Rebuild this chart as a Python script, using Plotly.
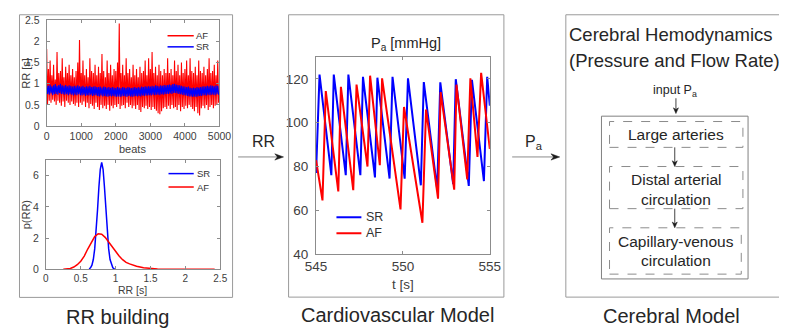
import plotly.graph_objects as go

W, H = 787, 329
FONT = "Liberation Sans, Arial, Helvetica, sans-serif"
TXT = "#262626"
LC = "#8c8c8c"
RED = "#ff0000"
BLUE = "#0000ff"


def X(p):
    return p / W


def Y(p):
    return 1 - p / H


# ---------------- data ----------------
beats = list(range(0, 5000, 25))
rr_af = [
    1.82, 0.52, 1.35, 0.60, 1.55, 0.55, 1.20, 0.62, 1.45, 0.58, 1.10, 0.50, 1.75, 0.60, 1.25, 0.55, 1.30, 0.48, 1.60, 0.58,
    1.15, 0.45, 1.40, 0.60, 1.25, 0.55, 1.45, 0.50, 1.20, 0.58, 1.35, 0.52, 1.15, 0.48, 1.30, 0.55, 1.50, 0.45, 2.03, 0.55,
    1.25, 0.50, 1.55, 0.58, 1.20, 0.45, 1.35, 0.55, 1.15, 0.42, 1.60, 0.52, 1.30, 0.48, 1.25, 0.40, 1.45, 0.55, 1.20, 0.45,
    1.40, 0.38, 1.25, 0.50, 1.70, 0.42, 1.30, 0.48, 1.15, 0.40, 1.55, 0.50, 1.25, 0.36, 1.45, 0.48, 1.20, 0.42, 1.35, 0.50,
    1.30, 0.45, 1.50, 0.52, 2.42, 0.40, 1.25, 0.48, 1.45, 0.50, 1.20, 0.42, 1.60, 0.55, 1.25, 0.45, 1.35, 0.50, 1.15, 0.42,
    1.45, 0.48, 1.20, 0.40, 1.35, 0.50, 1.15, 0.38, 1.40, 0.33, 1.25, 0.45, 1.30, 0.42, 1.55, 0.48, 1.20, 0.40, 1.60, 0.45,
    1.35, 0.38, 1.75, 0.45, 1.25, 0.40, 1.40, 0.36, 1.20, 0.30, 1.45, 0.28, 1.30, 0.35, 1.20, 0.42, 1.35, 0.45, 1.25, 0.40,
    1.60, 0.48, 1.25, 0.40, 1.35, 0.50, 1.20, 0.42, 1.55, 0.45, 1.30, 0.38, 1.45, 0.50, 1.20, 0.35, 1.50, 0.45, 1.25, 0.40,
    1.35, 0.48, 1.55, 0.42, 1.20, 0.50, 1.60, 0.45, 1.30, 0.40, 1.25, 0.35, 1.40, 0.45, 1.20, 0.30, 1.55, 0.25, 1.30, 0.42,
    1.25, 0.48, 1.40, 0.42, 1.20, 0.50, 1.35, 0.38, 1.60, 0.45, 1.25, 0.50, 1.30, 0.42, 1.45, 0.48, 1.20, 0.50, 1.55, 0.55,
]
rr_sr = [
    0.97, 0.76, 0.95, 0.74, 0.98, 0.77, 0.94, 0.73, 0.96, 0.75, 0.99, 0.76, 0.95, 0.74, 0.97, 0.78, 1.00, 0.76, 0.96, 0.75,
    0.95, 0.74, 0.97, 0.76, 0.94, 0.73, 0.96, 0.75, 0.95, 0.74, 0.93, 0.72, 0.95, 0.74, 0.94, 0.73, 0.96, 0.75, 0.94, 0.73,
    0.93, 0.72, 0.95, 0.74, 0.92, 0.71, 0.94, 0.73, 0.93, 0.72, 0.95, 0.74, 0.92, 0.71, 0.93, 0.72, 0.94, 0.73, 0.92, 0.71,
    0.92, 0.70, 0.93, 0.72, 0.91, 0.70, 0.93, 0.71, 0.92, 0.70, 0.91, 0.69, 0.92, 0.71, 0.90, 0.70, 0.92, 0.71, 0.91, 0.70,
    0.90, 0.69, 0.92, 0.70, 0.91, 0.69, 0.90, 0.70, 0.92, 0.71, 0.91, 0.70, 0.90, 0.69, 0.92, 0.71, 0.91, 0.70, 0.90, 0.69,
    0.91, 0.70, 0.92, 0.71, 0.90, 0.70, 0.92, 0.71, 0.91, 0.70, 0.93, 0.72, 0.92, 0.71, 0.94, 0.72, 0.93, 0.72, 0.94, 0.73,
    0.93, 0.72, 0.95, 0.74, 0.94, 0.73, 0.96, 0.74, 0.95, 0.74, 0.94, 0.73, 0.96, 0.75, 0.95, 0.74, 0.97, 0.75, 0.96, 0.76,
    0.97, 0.76, 0.98, 0.77, 0.97, 0.76, 0.99, 0.78, 1.00, 0.78, 0.98, 0.77, 0.97, 0.76, 0.96, 0.75, 0.95, 0.74, 0.94, 0.73,
    0.93, 0.72, 0.92, 0.71, 0.93, 0.70, 0.91, 0.70, 0.90, 0.69, 0.91, 0.70, 0.90, 0.69, 0.92, 0.70, 0.91, 0.71, 0.92, 0.71,
    0.93, 0.72, 0.94, 0.73, 0.93, 0.72, 0.95, 0.74, 0.94, 0.73, 0.96, 0.74, 0.95, 0.74, 0.94, 0.73, 0.96, 0.75, 0.95, 0.74,
]

# RR probability densities
pdf_sr_x = [0.62, 0.64, 0.66, 0.68, 0.70, 0.72, 0.74, 0.76, 0.78, 0.80, 0.82, 0.84, 0.86, 0.88, 0.90, 0.92, 0.94, 0.96, 0.98, 1.00]
pdf_sr_y = [0.03, 0.10, 0.27, 0.63, 1.31, 2.38, 3.78, 5.26, 6.41, 6.85, 6.41, 5.26, 3.78, 2.38, 1.31, 0.63, 0.27, 0.10, 0.03, 0.0]
pdf_af_x = [0.25, 0.30, 0.35, 0.40, 0.45, 0.50, 0.55, 0.60, 0.65, 0.70, 0.75, 0.80, 0.85, 0.90, 0.95, 1.00, 1.05, 1.10,
            1.15, 1.20, 1.25, 1.30, 1.40, 1.50, 1.60, 1.80, 2.00, 2.20, 2.42]
pdf_af_y = [0.0, 0.02, 0.06, 0.15, 0.30, 0.52, 0.85, 1.30, 1.75, 2.10, 2.28, 2.25, 2.05, 1.75, 1.42, 1.12, 0.85, 0.62,
            0.45, 0.35, 0.27, 0.20, 0.10, 0.04, 0.02, 0.01, 0.0, 0.0, 0.0]

# Arterial pressure waveforms (troughs and peaks)
t_sr = [545.00, 545.20, 545.88, 546.02, 546.71, 546.86, 547.55, 547.70, 548.39, 548.53, 549.23, 549.40,
        550.10, 550.29, 551.03, 551.20, 551.97, 552.15, 552.89, 553.04, 553.79, 553.97, 554.66, 554.85, 555.00]
pa_sr = [77.0, 122.0, 76.0, 122.0, 76.0, 122.0, 76.0, 121.0, 75.0, 120.6, 74.5, 121.0,
         74.4, 120.3, 71.4, 118.6, 69.7, 118.5, 71.9, 119.9, 71.1, 119.6, 73.3, 121.0, 107.8]
t_af = [545.00, 545.37, 545.56, 546.28, 546.43, 547.14, 547.33, 547.96, 548.11, 548.67, 548.80, 549.86,
        550.06, 551.12, 551.33, 552.02, 552.17, 552.95, 553.08, 553.70, 553.88, 554.29, 554.50, 555.00]
pa_af = [82.9, 64.5, 114.5, 68.6, 116.4, 69.2, 117.4, 80.0, 121.5, 80.6, 120.3, 60.4,
         107.2, 54.3, 106.0, 65.3, 114.0, 69.4, 117.4, 74.1, 120.3, 84.4, 122.8, 88.0]

# ---------------- figure ----------------
fig = go.Figure()
fig.add_trace(go.Scatter(x=beats, y=rr_af, mode="lines", line=dict(color=RED, width=1.1),
                         xaxis="x", yaxis="y", showlegend=False, name="AF"))
fig.add_trace(go.Scatter(x=beats, y=rr_sr, mode="lines", line=dict(color=BLUE, width=1.1),
                         xaxis="x", yaxis="y", showlegend=False, name="SR"))
fig.add_trace(go.Scatter(x=pdf_sr_x, y=pdf_sr_y, mode="lines", line=dict(color=BLUE, width=1.5),
                         xaxis="x2", yaxis="y2", showlegend=False, name="SR"))
fig.add_trace(go.Scatter(x=pdf_af_x, y=pdf_af_y, mode="lines", line=dict(color=RED, width=1.5),
                         xaxis="x2", yaxis="y2", showlegend=False, name="AF"))
fig.add_trace(go.Scatter(x=t_sr, y=pa_sr, mode="lines", line=dict(color=BLUE, width=2),
                         xaxis="x3", yaxis="y3", showlegend=False, name="SR"))
fig.add_trace(go.Scatter(x=t_af, y=pa_af, mode="lines", line=dict(color=RED, width=2),
                         xaxis="x3", yaxis="y3", showlegend=False, name="AF"))


def axstyle(size, standoff=3, **kw):
    d = dict(showline=True, linecolor=LC, linewidth=1, mirror="ticks", ticks="inside",
             ticklen=3, tickcolor=LC, tickwidth=1, showgrid=False, zeroline=False,
             tickfont=dict(family=FONT, size=size, color="#404040"),
             ticklabelstandoff=standoff, fixedrange=True)
    d.update(kw)
    return d


fig.update_layout(
    width=W, height=H, autosize=False,
    margin=dict(l=0, r=0, t=0, b=0),
    paper_bgcolor="white", plot_bgcolor="white",
    showlegend=False,
    font=dict(family=FONT, color=TXT),
    xaxis=axstyle(10.5, 0, domain=[X(28.5), X(206.5)], anchor="y", range=[0, 5000],
                  tickvals=[0, 1000, 2000, 3000, 4000, 5000]),
    yaxis=axstyle(10.5, 4, domain=[Y(117), Y(6.5)], anchor="x", range=[0, 2.5],
                  tickvals=[0, 0.5, 1, 1.5, 2, 2.5]),
    xaxis2=axstyle(10, 0, domain=[X(27.7), X(207.3)], anchor="y2", range=[0, 2.5],
                   tickvals=[0, 0.5, 1, 1.5, 2, 2.5]),
    yaxis2=axstyle(10.5, 4, domain=[Y(266.7), Y(152.5)], anchor="x2", range=[0, 7],
                   tickvals=[0, 2, 4, 6]),
    xaxis3=axstyle(13.5, 0, domain=[X(306), X(485)], anchor="y3", range=[545, 555],
                   tickvals=[545, 550, 555]),
    yaxis3=axstyle(13.5, 4, domain=[Y(250.7), Y(45)], anchor="x3", range=[40, 130],
                   tickvals=[40, 60, 80, 100, 120]),
)

shapes = []


def rect(x0, y0, x1, y1, color="#9a9a9a", dash="solid", width=1):
    shapes.append(dict(type="rect", xref="paper", yref="paper", x0=X(x0), x1=X(x1), y0=Y(y1), y1=Y(y0),
                       line=dict(color=color, width=width, dash=dash), fillcolor="rgba(0,0,0,0)", layer="above"))


def seg(x0, y0, x1, y1, color, width):
    shapes.append(dict(type="line", xref="paper", yref="paper", x0=X(x0), x1=X(x1), y0=Y(y0), y1=Y(y1),
                       line=dict(color=color, width=width), layer="above"))


def head(xt, yt, direction, length, half, color="#1a1a1a"):
    # notched arrow head with tip at (xt, yt)
    if direction == "right":
        pts = [(xt, yt), (xt - length, yt - half), (xt - length * 0.7, yt), (xt - length, yt + half)]
    else:  # down
        pts = [(xt, yt), (xt - half, yt - length), (xt, yt - length * 0.7), (xt + half, yt - length)]
    path = "M " + " L ".join(f"{X(a):.5f},{Y(b):.5f}" for a, b in pts) + " Z"
    shapes.append(dict(type="path", xref="paper", yref="paper", path=path,
                       fillcolor=color, line=dict(color=color, width=0.5), layer="above"))


def arrow_h(x0, x1, y, line_color="#8c8c8c"):
    seg(x0, y, x1 - 4, y, line_color, 1)
    head(x1, y, "right", 9, 3.3)


def arrow_v(x, y0, y1, line_color="#444444"):
    seg(x, y0, x, y1 - 3, line_color, 1)
    head(x, y1, "down", 6, 2.6)


# panel frames
rect(0.5, 0.8, 220, 296)
rect(277.7, 0.8, 499.5, 295.7)
rect(563.3, 0.8, 786.3, 295.7)
# cerebral model boxes
rect(600, 106.7, 751, 276.7, color="#808080")
rect(608.3, 112.3, 745.7, 139.3, color="#8c8c8c", dash="dash")
rect(608.3, 159.3, 745.7, 203.3, color="#8c8c8c", dash="dash")
rect(608.3, 223.3, 744.0, 271.7, color="#8c8c8c", dash="dash")

# legend keys
seg(153, 22.7, 180, 22.7, RED, 1.5)
seg(153, 34.3, 180, 34.3, BLUE, 1.5)
seg(154, 166.7, 180, 166.7, BLUE, 1.5)
seg(154, 180.7, 180, 180.7, RED, 1.5)
seg(327, 212.3, 352.7, 212.3, BLUE, 2)
seg(327, 229.0, 352.7, 229.0, RED, 2)

# arrows
arrow_h(225.7, 272.5, 149.3)
arrow_h(508, 557, 149.3)
arrow_v(676.7, 88, 104)
arrow_v(675.5, 139.3, 159.3)
arrow_v(675.5, 203.3, 223.3)

fig.update_layout(shapes=shapes)

ann = []


def txt(s, x, y, size, anchor="center", color=TXT, angle=0):
    ann.append(dict(text=s, x=X(x), y=Y(y), xref="paper", yref="paper", showarrow=False,
                    xanchor=anchor, yanchor="middle", textangle=angle, borderpad=0,
                    font=dict(family=FONT, size=size, color=color)))


# left panel texts
txt("AF", 181.5, 22.7, 9.5, anchor="left", color="#333333")
txt("SR", 181.5, 34.3, 9.5, anchor="left", color="#333333")
txt("SR", 182.5, 166.7, 9.5, anchor="left", color="#333333")
txt("AF", 182.5, 180.7, 9.5, anchor="left", color="#333333")
txt("beats", 117, 140.5, 11, color="#404040")
txt("RR [s]", 7.5, 62, 11, color="#404040", angle=-90)
txt("p(RR)", 7.5, 210, 11, color="#404040", angle=-90)
txt("RR [s]", 117, 288.5, 10.5, color="#404040")
txt("RR building", 101.5, 316, 20)

# middle panel texts
txt("P<sub>a</sub> [mmHg]", 399, 31, 14.5)
txt("SR", 356, 212.3, 12.5, anchor="left", color="#333333")
txt("AF", 356, 229.0, 12.5, anchor="left", color="#333333")
txt("t [s]", 395.5, 282.5, 13.5, color="#404040")
txt("Cardiovascular Model", 390, 314, 20)

# arrow labels
txt("RR", 251.7, 133, 16)
txt("P<sub>a</sub>", 530, 134, 16)

# right panel texts
txt("Cerebral Hemodynamics", 565.5, 21.7, 18.5, anchor="left")
txt("(Pressure and Flow Rate)", 565.5, 48.3, 18.5, anchor="left")
txt("input P<sub>a</sub>", 676, 80, 12.5)
txt("Large arteries", 676.7, 126, 15.5)
txt("Distal arterial", 676.7, 173.3, 15.5)
txt("circulation", 676.7, 193.3, 15.5)
txt("Capillary-venous", 676.7, 237.3, 15.5)
txt("circulation", 676.7, 257.3, 15.5)
txt("Cerebral Model", 671.7, 315, 20)

fig.update_layout(annotations=ann)

fig.write_html("out.html")
